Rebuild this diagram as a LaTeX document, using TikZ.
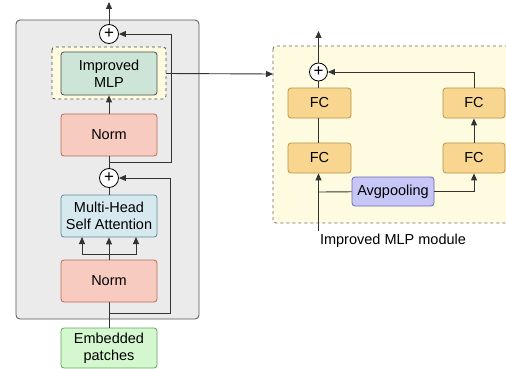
\documentclass[tikz,border=0pt]{standalone}
\usepackage{fontspec}
\setmainfont{Liberation Sans}
\usetikzlibrary{arrows.meta}
\definecolor{grayfill}{HTML}{EBEBEB}
\definecolor{grayline}{HTML}{555555}
\definecolor{yelfill}{HTML}{FFFBE0}
\definecolor{mlpfill}{HTML}{CCE5D6}
\definecolor{normfill}{HTML}{F8CBC0}
\definecolor{normline}{HTML}{B86A5C}
\definecolor{attfill}{HTML}{D6E9EF}
\definecolor{attline}{HTML}{5E8A99}
\definecolor{embfill}{HTML}{D5F7CF}
\definecolor{embline}{HTML}{5FA85A}
\definecolor{fcfill}{HTML}{F8D68F}
\definecolor{fcline}{HTML}{B8924A}
\definecolor{avgfill}{HTML}{C6C6F7}
\definecolor{avgline}{HTML}{6A6AB8}
\begin{document}
\begin{tikzpicture}[x=1pt,y=-1pt,
  txt/.style={font=\fontsize{14.5}{17}\selectfont, align=center},
  blk/.style={txt, draw, rounded corners=3pt, line width=0.8pt, inner sep=0pt},
  plusnode/.style={circle, draw, fill=white, line width=0.8pt, minimum size=19pt, inner sep=0pt, font=\fontsize{17}{17}\selectfont},
  conn/.style={line width=0.9pt, draw=black!80},
  arr/.style={conn, -{Triangle[length=7pt,width=6pt]}}
]
\useasboundingbox (0,0) rectangle (506,369);
% outer gray box
\draw[fill=grayfill, draw=grayline, line width=0.8pt, rounded corners=4pt] (16,20) rectangle (199,319);
% dashed yellow around improved MLP
\draw[fill=yelfill, draw=black!70, dashed, line width=0.8pt, rounded corners=3pt] (52,47) rectangle (166,99);
% right yellow panel
\draw[fill=yelfill, draw=black!60, dashed, line width=0.8pt, rounded corners=3pt] (273,46) rectangle (520,223);

% left column nodes
\node[blk, fill=mlpfill, draw=black!70, minimum width=96pt, minimum height=43pt] (mlp) at (109,73.5) {Improved\\MLP};
\node[blk, fill=normfill, draw=normline, minimum width=96pt, minimum height=42pt] (norm1) at (109,135) {Norm};
\node[blk, fill=attfill, draw=attline, minimum width=96pt, minimum height=42pt] (att) at (109,216) {Multi-Head\\Self Attention};
\node[blk, fill=normfill, draw=normline, minimum width=96pt, minimum height=42pt] (norm2) at (109,281) {Norm};
\node[blk, fill=embfill, draw=embline, minimum width=96pt, minimum height=40pt] (emb) at (109,348) {Embedded\\patches};
\node[plusnode] (p1) at (109,34) {+};
\node[plusnode] (p2) at (109,178) {+};
\coordinate (out1) at (109,2);
\coordinate (b1) at (109,313);
\coordinate (b2) at (109,162);
\coordinate (br) at (109,254);

% left connectors
\draw[arr] (p1) -- (out1);
\draw[arr] (norm1) -- (mlp);
\draw[conn] (p2) -- (norm1);
\draw[conn] (att) -- (p2);
\draw[conn] (emb) -- (norm2);
\draw[arr] (b2) -- (171,162) -- (171,34) -- (p1);
\draw[arr] (b1) -- (170,313) -- (170,178) -- (p2);
\draw[conn] (norm2) -- (br);
\draw[arr] (br) -- (att);
\draw[arr] (br) -| (82,237);
\draw[arr] (br) -| (136,237);

% right panel nodes
\node[blk, fill=fcfill, draw=fcline, minimum width=63pt, minimum height=30pt] (fc1) at (319.5,103) {FC};
\node[blk, fill=fcfill, draw=fcline, minimum width=63pt, minimum height=30pt] (fc2) at (319.5,158) {FC};
\node[blk, fill=fcfill, draw=fcline, minimum width=62pt, minimum height=30pt] (fc3) at (474,103) {FC};
\node[blk, fill=fcfill, draw=fcline, minimum width=62pt, minimum height=30pt] (fc4) at (474,158) {FC};
\node[blk, fill=avgfill, draw=avgline, minimum width=82pt, minimum height=29pt] (avg) at (393,191.5) {Avgpooling};
\node[plusnode, minimum size=18pt] (p3) at (318.5,72) {+};
\node[txt] (lbl) at (393,241) {Improved MLP module};
\coordinate (in) at (318.5,231);
\coordinate (split) at (318.5,192);
\coordinate (out2) at (318.5,31);

% link
\draw[arr] (mlp.east -| 166,74) -- (273,74);

% right connectors
\draw[arr] (p3) -- (out2);
\draw[conn] (fc1.north -| p3) -- (p3);
\draw[conn] (fc2.north -| p3) -- (fc1.south -| p3);
\draw[arr] (in) -- (fc2.south -| in);
\draw[conn] (split) -- (avg);
\draw[arr] (avg) -| (fc4);
\draw[arr] (fc4) -- (fc3);
\draw[arr] (fc3) |- (p3);
\end{tikzpicture}
\end{document}
